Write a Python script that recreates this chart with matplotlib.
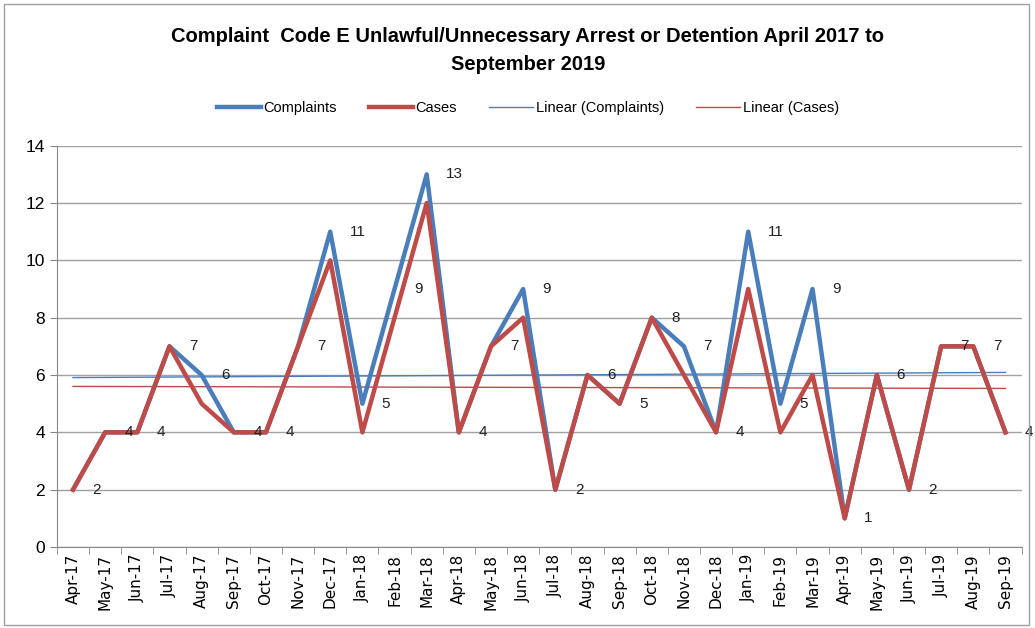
import matplotlib
matplotlib.use("Agg")
import matplotlib.pyplot as plt
import numpy as np

months = ["Apr-17", "May-17", "Jun-17", "Jul-17", "Aug-17", "Sep-17", "Oct-17", "Nov-17",
          "Dec-17", "Jan-18", "Feb-18", "Mar-18", "Apr-18", "May-18", "Jun-18", "Jul-18",
          "Aug-18", "Sep-18", "Oct-18", "Nov-18", "Dec-18", "Jan-19", "Feb-19", "Mar-19",
          "Apr-19", "May-19", "Jun-19", "Jul-19", "Aug-19", "Sep-19"]
complaints = [2, 4, 4, 7, 6, 4, 4, 7, 11, 5, 9, 13, 4, 7, 9, 2, 6, 5, 8, 7, 4, 11, 5, 9, 1, 6, 2, 7, 7, 4]
cases = [2, 4, 4, 7, 5, 4, 4, 7, 10, 4, 8, 12, 4, 7, 8, 2, 6, 5, 8, 6, 4, 9, 4, 6, 1, 6, 2, 7, 7, 4]

blue = "#4A7EBB"
red = "#BE4B48"

plt.rcParams['font.family'] = ['Liberation Sans', 'DejaVu Sans']

fig = plt.figure(figsize=(10.35, 6.28), dpi=100)
ax = fig.add_axes([0.055, 0.129, 0.932, 0.639])

x = np.arange(len(months))
ax.plot(x, complaints, color=blue, lw=3.2, label="Complaints", zorder=3)
ax.plot(x, cases, color=red, lw=3.2, label="Cases", zorder=3)

pc = np.polyfit(x + 1, complaints, 1)
pk = np.polyfit(x + 1, cases, 1)
ax.plot(x, np.polyval(pc, x + 1), color=blue, lw=1, label="Linear (Complaints)", zorder=2)
ax.plot(x, np.polyval(pk, x + 1), color=red, lw=1, label="Linear (Cases)", zorder=2)

for xi, v in zip(x, complaints):
    ax.annotate(str(v), (xi, v), xytext=(14, 0), textcoords="offset points",
                ha="left", va="center", fontsize=11, color="#222222", zorder=4)

ax.set_xlim(-0.5, len(months) - 0.5)
ax.set_ylim(0, 14)
ax.set_yticks(range(0, 15, 2))
ax.set_xticks(x)
ax.set_xticklabels(months, rotation=90, fontsize=11, family=['DejaVu Sans'])
ax.set_xticks(np.arange(-0.5, len(months), 1), minor=True)
ax.tick_params(axis="x", which="major", length=0, pad=5)
ax.tick_params(axis="x", which="minor", length=5, color="#888888")
ax.tick_params(axis="y", length=5, color="#888888", labelsize=12.5)
ax.grid(axis="y", color="#A0A0A0", lw=1)
ax.set_axisbelow(True)
for s in ["top", "right"]:
    ax.spines[s].set_visible(False)
for s in ["left", "bottom"]:
    ax.spines[s].set_color("#888888")

fig.text(0.51, 0.92, "Complaint  Code E Unlawful/Unnecessary Arrest or Detention April 2017 to\nSeptember 2019",
         ha="center", va="center", fontsize=14.5, fontweight="bold", linespacing=1.6)

fig.legend(loc="center", bbox_to_anchor=(0.51, 0.828), ncol=4, frameon=False,
           fontsize=10.5, handlelength=3, columnspacing=2.2, handletextpad=0.2)

border = plt.Rectangle((0.004, 0.004), 0.99, 0.99, transform=fig.transFigure,
                       fill=False, edgecolor="#A0A0A0", lw=1)
fig.patches.append(border)

fig.savefig("out.png", dpi=100)
